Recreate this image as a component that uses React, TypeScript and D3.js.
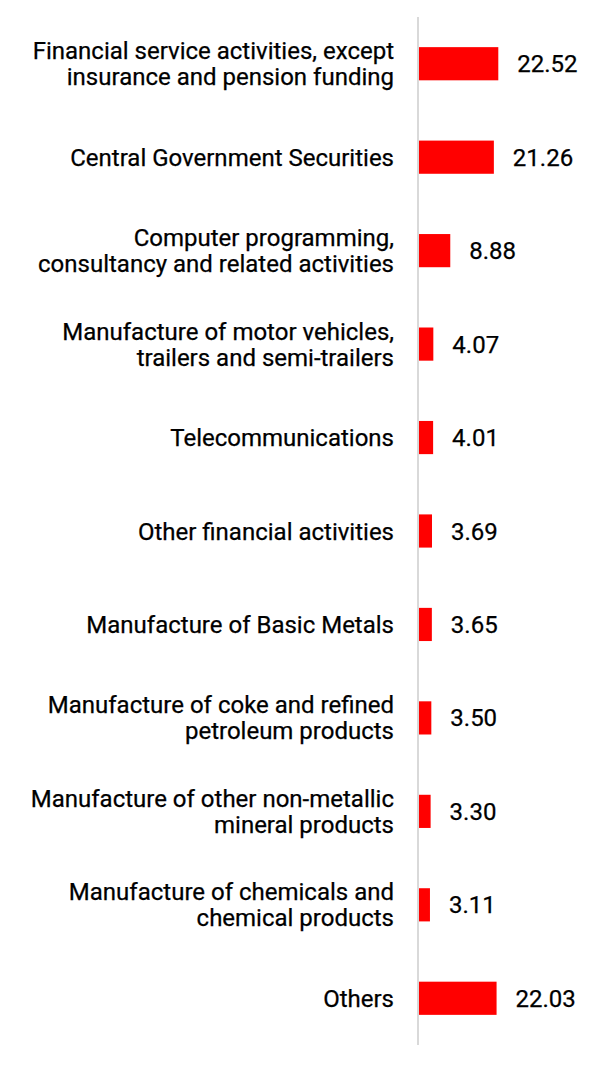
import React from "react";
import * as d3 from "d3";

const categories: string[] = [
  "Financial service activities, except|insurance and pension funding",
  "Central Government Securities",
  "Computer programming,|consultancy and related activities",
  "Manufacture of motor vehicles,|trailers and semi-trailers",
  "Telecommunications",
  "Other financial activities",
  "Manufacture of Basic Metals",
  "Manufacture of coke and refined|petroleum products",
  "Manufacture of other non-metallic|mineral products",
  "Manufacture of chemicals and|chemical products",
  "Others",
];

const values: number[] = [22.52, 21.26, 8.88, 4.07, 4.01, 3.69, 3.65, 3.5, 3.3, 3.11, 22.03];

const W = 616;
const H = 1069;
const AXIS_X = 418;
const TOP = 17;
const BOTTOM = 1045;
const FONT = "Roboto, 'Noto Sans', sans-serif";
const LABEL_SIZE = 24;
const VALUE_SIZE = 24;
const LINE_H = 26;

export default function App() {
  const y = d3
    .scaleBand<string>()
    .domain(categories)
    .range([TOP, BOTTOM])
    .paddingInner(0.645)
    .paddingOuter(0.3225);
  const x = d3.scaleLinear().domain([0, 22.52]).range([AXIS_X + 1, 498.3]);
  const bw = y.bandwidth();

  return (
    <svg
      width={W}
      height={H}
      style={{ position: "absolute", left: 0, top: 0, background: "#fff" }}
      fontFamily={FONT}
    >
      {categories.map((c, i) => {
        const cy = (y(c) as number) + bw / 2;
        const lines = c.split("|");
        const first = cy - ((lines.length - 1) * LINE_H) / 2 + LABEL_SIZE * 0.355;
        return (
          <g key={c}>
            <rect
              x={x(0)}
              y={y(c)}
              width={x(values[i]) - x(0)}
              height={bw}
              fill="#ff0000"
            />
            <text textAnchor="end" fontSize={LABEL_SIZE} fill="#000" stroke="#000" strokeWidth={0.25}>
              {lines.map((l, j) => (
                <tspan key={j} x={394} y={first + j * LINE_H}>
                  {l}
                </tspan>
              ))}
            </text>
            <text
              x={x(values[i]) + 19}
              y={cy + VALUE_SIZE * 0.355}
              fontSize={VALUE_SIZE}
              fill="#000"
              stroke="#000"
              strokeWidth={0.25}
            >
              {values[i].toFixed(2)}
            </text>
          </g>
        );
      })}
      <line x1={AXIS_X} x2={AXIS_X} y1={TOP} y2={BOTTOM} stroke="#d9d9d9" strokeWidth={2} />
    </svg>
  );
}
